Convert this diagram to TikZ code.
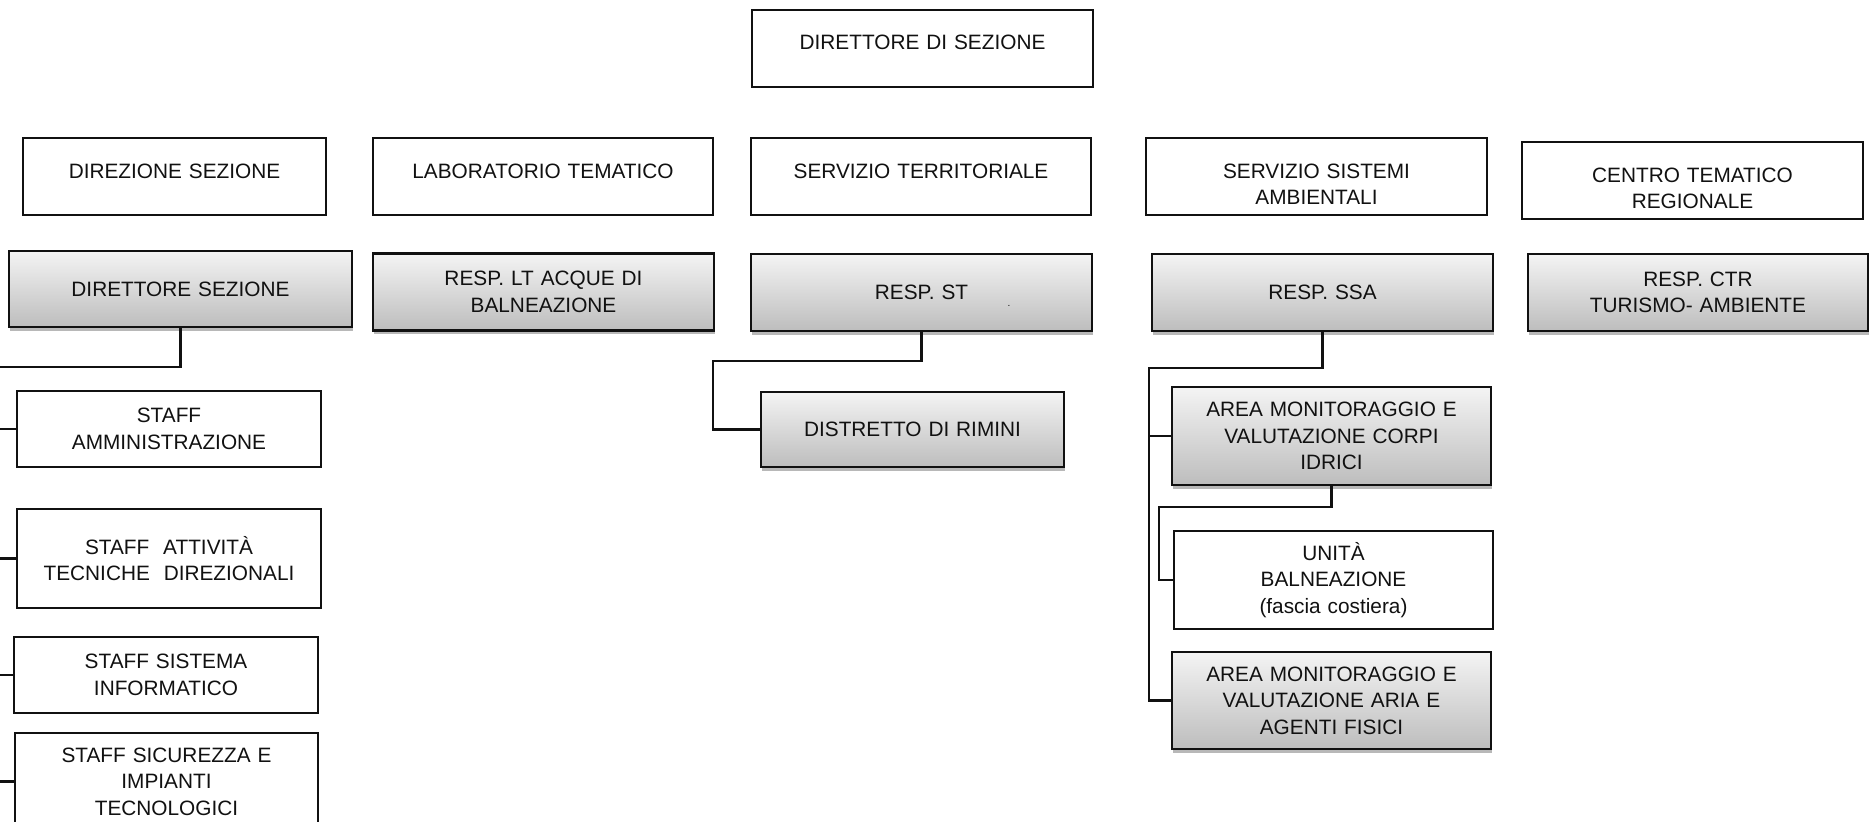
\documentclass[tikz,border=0pt]{standalone}
\usepackage{fontspec}
\setmainfont{Liberation Sans}
\usepackage{xcolor}
\usepackage{tikz}
\usetikzlibrary{shadows}
\definecolor{ink}{HTML}{111111}
\definecolor{shtop}{HTML}{F4F4F4}
\definecolor{shbot}{HTML}{BDBDBD}
\newcommand{\orgfont}{\fontsize{10.4}{13.2}\selectfont}
\tikzset{
  headbox/.style={draw=ink, line width=1.3pt, fill=white, text=ink, font=\orgfont,
    align=center, inner xsep=0pt, inner ysep=0pt, text width=#1,
    text height=20.3pt, text depth=18.2pt},
  staffbox/.style={draw=ink, line width=1.3pt, fill=white, text=ink, font=\orgfont,
    align=center, inner xsep=0pt, text width=#1},
  respbox/.style={draw=ink, line width=1.3pt, top color=shtop, bottom color=shbot,
    text=ink, font=\orgfont, align=center, inner xsep=0pt, text width=#1,
    minimum height=38.5pt,
    drop shadow={shadow xshift=0.6pt, shadow yshift=-1.8pt, fill=black, opacity=0.28}},
  link/.style={draw=ink, line width=1.1pt, line join=miter},
}

\begin{document}
\begin{tikzpicture}[x=0.5pt, y=-0.5pt]
  \clip (0,0) rectangle (1870,822);

  % vertice
  \node[headbox=170.5pt, text height=19.6pt, text depth=18.9pt] (dir) at (922.5,48.5) {DIRETTORE DI SEZIONE};

  % intestazioni
  \node[headbox=151.5pt] (hdir) at (174.5,176.5) {DIREZIONE SEZIONE};
  \node[headbox=170pt] (hlab) at (543,176.5) {LABORATORIO TEMATICO};
  \node[headbox=170pt] (hst) at (921,176.5) {SERVIZIO TERRITORIALE};
  \node[headbox=170.5pt] (hssa) at (1316.5,176.5) {SERVIZIO SISTEMI\\AMBIENTALI};
  \node[headbox=170.5pt] (hctr) at (1692.5,180.5) {CENTRO TEMATICO\\REGIONALE};

  % responsabili
  \node[respbox=171.5pt, minimum height=38pt] (rdir) at (180.5,289) {DIRETTORE SEZIONE};
  \node[respbox=170.5pt] (rlab) at (543.5,292) {RESP. LT ACQUE DI\\BALNEAZIONE};
  \node[respbox=170.5pt] (rst) at (921.5,292.5) {RESP. ST};
  \node[font=\tiny, text=ink, inner sep=0pt] (stdot) at (1009,306) {.};
  \node[respbox=170.5pt] (rssa) at (1322.5,292.5) {RESP. SSA};
  \node[respbox=170pt] (rctr) at (1698,292.5) {RESP. CTR\\TURISMO- AMBIENTE};

  % staff di direzione
  \node[staffbox=152pt, minimum height=38pt] (adm) at (169,429) {STAFF\\AMMINISTRAZIONE};
  \node[staffbox=152pt, minimum height=49.5pt] (tec) at (169,558.5) {STAFF~~ATTIVITÀ\\TECNICHE~~DIREZIONALI};
  \node[staffbox=152pt, minimum height=38pt] (inf) at (166,675) {STAFF SISTEMA\\INFORMATICO};
  \node[staffbox=151.5pt, minimum height=48.5pt] (sic) at (166.5,781.5) {STAFF SICUREZZA E\\IMPIANTI\\TECNOLOGICI};

  % servizio territoriale
  \node[respbox=151.5pt, minimum height=37.5pt] (rim) at (912.5,429.5) {DISTRETTO DI RIMINI};

  % sistemi ambientali
  \node[respbox=159.5pt, minimum height=49pt] (acq) at (1331.5,436) {AREA MONITORAGGIO E\\VALUTAZIONE CORPI\\IDRICI};
  \node[staffbox=159.5pt, minimum height=49pt] (bal) at (1333.5,580) {UNITÀ\\BALNEAZIONE\\(fascia costiera)};
  \node[respbox=159.5pt, minimum height=48.5pt] (aria) at (1331.5,700.5) {AREA MONITORAGGIO E\\VALUTAZIONE ARIA E\\AGENTI FISICI};

  % collegamenti
  \coordinate (dirbend) at (-3,367);
  \coordinate (stbend) at (713,361);
  \coordinate (ssabend) at (1149,368);
  \coordinate (acqbend) at (1159,507);

  \draw[link] (rdir.south) |- (dirbend) |- (sic.west);
  \draw[link] (dirbend |- adm.west) -- (adm.west);
  \draw[link] (dirbend |- tec.west) -- (tec.west);
  \draw[link] (dirbend |- inf.west) -- (inf.west);

  \draw[link] (rst.south) |- (stbend) |- (rim.west);

  \draw[link] (rssa.south) |- (ssabend) |- (aria.west);
  \draw[link] (ssabend |- acq.west) -- (acq.west);
  \draw[link] (acq.south) |- (acqbend) |- (bal.west);
\end{tikzpicture}
\end{document}
